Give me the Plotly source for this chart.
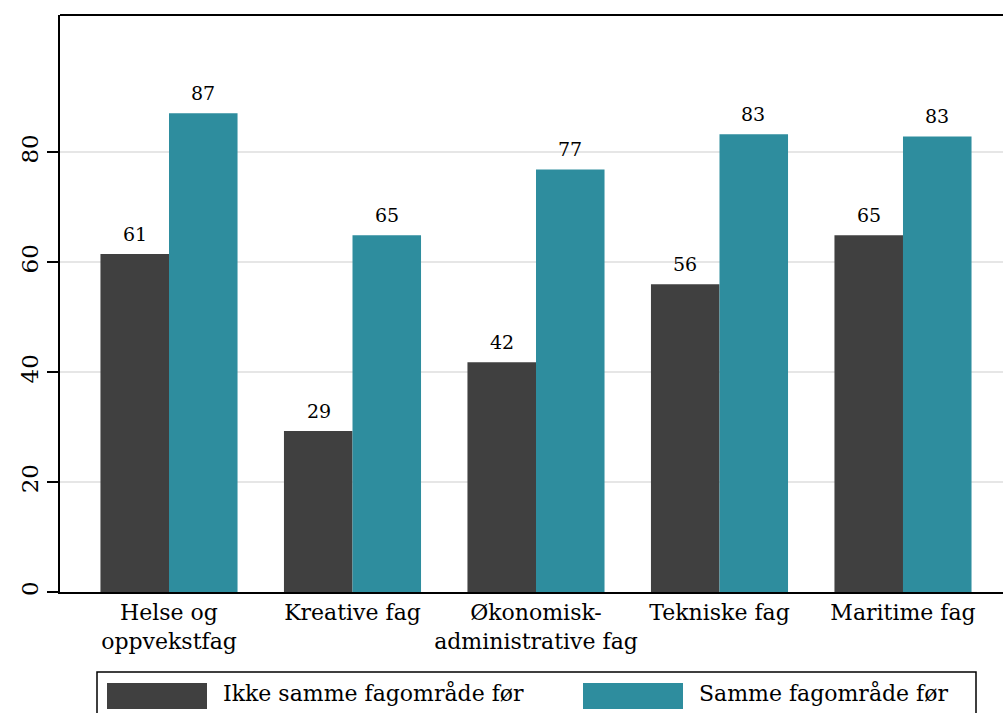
import plotly.graph_objects as go

categories = ["Helse og<br>oppvekstfag", "Kreative fag", "Økonomisk-<br>administrative fag",
              "Tekniske fag", "Maritime fag"]
series_names = ["Ikke samme fagområde før", "Samme fagområde før"]
ikke_values = [61.5, 29.3, 41.8, 56.0, 64.9]
samme_values = [87.1, 64.9, 76.9, 83.3, 82.9]
ikke_labels = ["61", "29", "42", "56", "65"]
samme_labels = ["87", "65", "77", "83", "83"]
y_ticks = [0, 20, 40, 60, 80]

colors = ["#404040", "#2e8d9e"]
FONT = "DejaVu Serif"
W, H = 1003, 713
L, R, T, B = 60, 0, 15, 121

fig = go.Figure()
for name, vals, col in zip(series_names, [ikke_values, samme_values], colors):
    fig.add_trace(go.Bar(x=categories, y=vals, name=name, marker=dict(color=col, line=dict(width=0)),
                         showlegend=False))

anns = []
for vals, labs, shift in [(ikke_values, ikke_labels, -34), (samme_values, samme_labels, 34)]:
    for c, v, t in zip(categories, vals, labs):
        anns.append(dict(x=c, y=v, text=t, showarrow=False, xshift=shift, yshift=7,
                         yanchor="bottom", font=dict(family=FONT, size=19, color="#000")))

# legend drawn manually (wide swatches)
pw = W - L - R
ph = H - T - B
def px(x):
    return (x - L) / pw
def py(y):
    return (H - B - y) / ph

shapes = [
    dict(type="line", xref="paper", yref="paper", x0=0, x1=1, y0=1, y1=1,
         line=dict(color="#000", width=2)),
    dict(type="rect", xref="paper", yref="paper", x0=px(97), x1=px(976), y0=py(672), y1=py(730),
         line=dict(color="#000", width=1.5), fillcolor="rgba(0,0,0,0)"),
    dict(type="rect", xref="paper", yref="paper", x0=px(107), x1=px(207), y0=py(683), y1=py(709),
         line=dict(width=0), fillcolor=colors[0]),
    dict(type="rect", xref="paper", yref="paper", x0=px(583), x1=px(683), y0=py(683), y1=py(709),
         line=dict(width=0), fillcolor=colors[1]),
]
anns.append(dict(xref="paper", yref="paper", x=px(221), y=py(693), text=series_names[0],
                 showarrow=False, xanchor="left", yanchor="middle",
                 font=dict(family=FONT, size=22, color="#000")))
anns.append(dict(xref="paper", yref="paper", x=px(697), y=py(693), text=series_names[1],
                 showarrow=False, xanchor="left", yanchor="middle",
                 font=dict(family=FONT, size=22, color="#000")))

fig.update_layout(
    width=W, height=H,
    margin=dict(l=L, r=R, t=T, b=B),
    paper_bgcolor="white", plot_bgcolor="white",
    barmode="group", bargap=0.253, bargroupgap=0,
    font=dict(family=FONT, size=22, color="#000"),
    shapes=shapes, annotations=anns,
    xaxis=dict(range=[-0.594, 4.545], showline=True, linecolor="#000", linewidth=2,
               ticks="", showgrid=False, tickfont=dict(family=FONT, size=22)),
    yaxis=dict(range=[0, 105], tickvals=y_ticks, showline=True, linecolor="#000", linewidth=2,
               ticks="outside", ticklen=11, tickcolor="#000", tickwidth=1.5,
               showgrid=True, gridcolor="#e6e6e6", gridwidth=2, zeroline=False,
               tickangle=-90, tickfont=dict(family=FONT, size=23)),
)
fig.write_html("out.html", config={"displayModeBar": False},
               post_script="document.body.style.margin='0';document.body.style.padding='0';")
